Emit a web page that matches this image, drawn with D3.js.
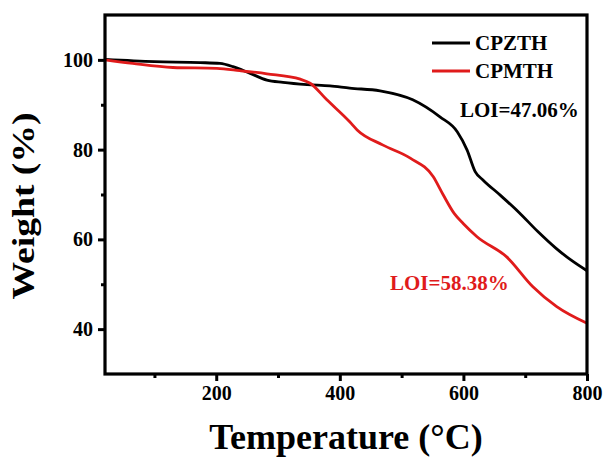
<!DOCTYPE html>
<html>
<head>
<meta charset="utf-8">
<script src="https://cdnjs.cloudflare.com/ajax/libs/d3/7.8.5/d3.min.js"></script>
<style>
  body { margin: 0; background: #fff; }
  svg { display: block; font-family: "Liberation Serif", "Times New Roman", serif; font-weight: bold; }
</style>
</head>
<body>
<svg id="chart" width="605" height="457"></svg>
<script>
// TGA curves
var tempZ = [20, 100, 174, 206, 227, 255, 282, 308, 347, 384, 416, 465, 518, 562, 590, 606, 619, 632, 660, 690, 720, 750, 775, 800];
var weightZ = [100.1, 99.6, 99.4, 99.2, 98.5, 97.0, 95.5, 95.0, 94.5, 94.2, 93.7, 93.1, 91.1, 87.3, 84.0, 79.9, 75.1, 73.2, 69.8, 66.0, 61.8, 58.0, 55.3, 53.0];

var tempM = [20, 65, 130, 201, 238, 282, 336, 352, 379, 416, 428, 470, 514, 551, 567, 585, 600, 622, 670, 712, 751, 800];
var weightM = [100, 99.2, 98.3, 98.1, 97.6, 96.9, 95.7, 94.8, 91.1, 86.2, 84.4, 81.0, 78.1, 74.0, 70.0, 65.8, 63.5, 60.6, 56.1, 49.5, 45.0, 41.3];

var seriesNames = ["CPZTH", "CPMTH"];
var seriesColors = ["#000000", "#e01b1b"];
var xTicks = [200, 400, 600, 800];
var xMinor = [100, 300, 500, 700];
var yTicks = [40, 60, 80, 100];
var yMinor = [50, 70, 90];

var margin = {top: 15, right: 18, bottom: 83, left: 105};
var width = 605 - margin.left - margin.right;
var height = 457 - margin.top - margin.bottom;

var svg = d3.select("#chart");
var g = svg.append("g").attr("transform", "translate(" + margin.left + "," + margin.top + ")");

var x = d3.scaleLinear().domain([20, 800]).range([0, width]);
var y = d3.scaleLinear().domain([30, 110]).range([height, 0]);

var series = [
    {name: seriesNames[0], color: seriesColors[0], pts: tempZ.map(function(t, i) { return [t, weightZ[i]]; })},
    {name: seriesNames[1], color: seriesColors[1], pts: tempM.map(function(t, i) { return [t, weightM[i]]; })}
];

var line = d3.line()
    .x(function(d) { return x(d[0]); })
    .y(function(d) { return y(d[1]); })
    .curve(d3.curveMonotoneX);

// curves (red drawn over black, as in the picture)
g.selectAll("path.curve")
    .data(series)
    .enter()
    .append("path")
    .attr("class", "curve")
    .attr("d", function(d) { return line(d.pts); })
    .attr("fill", "none")
    .attr("stroke", function(d) { return d.color; })
    .attr("stroke-width", 2.8)
    .attr("stroke-linejoin", "round");

// axes
g.append("g")
    .attr("transform", "translate(0," + height + ")")
    .call(d3.axisBottom(x).tickValues(xTicks).tickSize(7).tickPadding(5).tickFormat(d3.format("d")));
g.append("g")
    .attr("transform", "translate(0," + height + ")")
    .call(d3.axisBottom(x).tickValues(xMinor).tickSize(4).tickFormat(""));

g.append("g")
    .call(d3.axisLeft(y).tickValues(yTicks).tickSize(7).tickPadding(5).tickFormat(d3.format("d")));
g.append("g")
    .call(d3.axisLeft(y).tickValues(yMinor).tickSize(4).tickFormat(""));

g.selectAll(".domain").remove();
g.selectAll(".tick line").attr("stroke", "#000").attr("stroke-width", 3);
g.selectAll(".tick text")
    .attr("fill", "#000")
    .style("font-family", "Liberation Serif, serif")
    .style("font-weight", "bold")
    .style("font-size", "20px");

// frame
g.append("rect")
    .attr("x", 0)
    .attr("y", 0)
    .attr("width", width)
    .attr("height", height)
    .attr("fill", "none")
    .attr("stroke", "#000")
    .attr("stroke-width", 3.2);

// axis titles
svg.append("text")
    .attr("x", 346)
    .attr("y", 449)
    .attr("text-anchor", "middle")
    .style("font-size", "36px")
    .text("Temperature (\u00B0C)");

svg.append("text")
    .attr("transform", "translate(34,206) rotate(-90)")
    .attr("text-anchor", "middle")
    .attr("textLength", 187)
    .attr("lengthAdjust", "spacingAndGlyphs")
    .style("font-size", "32px")
    .text("Weight (%)");

// legend
var legend = svg.append("g").attr("transform", "translate(432,43)");
var item = legend.selectAll("g.item")
    .data(series)
    .enter()
    .append("g")
    .attr("class", "item")
    .attr("transform", function(d, i) { return "translate(0," + i * 28 + ")"; });
item.append("line")
    .attr("x1", 0).attr("x2", 38)
    .attr("y1", 0).attr("y2", 0)
    .attr("stroke", function(d) { return d.color; })
    .attr("stroke-width", 3.2);
item.append("text")
    .attr("x", 43)
    .attr("y", 7)
    .style("font-size", "21px")
    .text(function(d) { return d.name; });

// LOI notes
svg.append("text")
    .attr("x", 460)
    .attr("y", 117)
    .style("font-size", "21px")
    .text("LOI=47.06%");
svg.append("text")
    .attr("x", 390)
    .attr("y", 290)
    .attr("fill", seriesColors[1])
    .style("font-size", "21px")
    .text("LOI=58.38%");
</script>
</body>
</html>
